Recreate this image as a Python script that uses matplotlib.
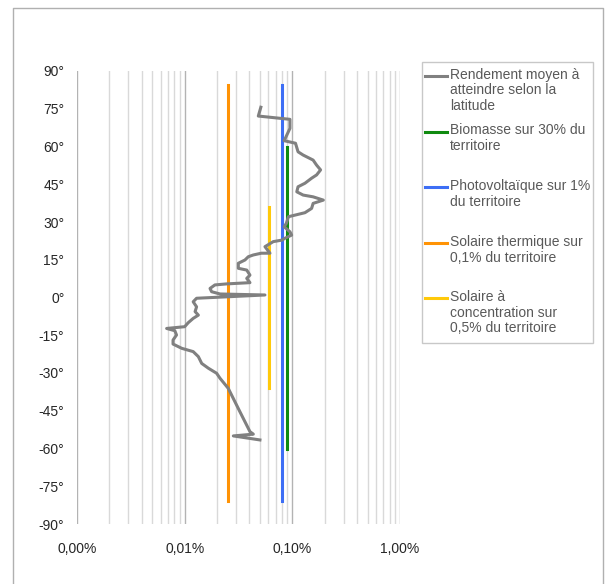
import matplotlib
matplotlib.use("Agg")
import matplotlib.pyplot as plt
from matplotlib.lines import Line2D
from matplotlib.patches import Rectangle
from matplotlib.ticker import FixedLocator, FuncFormatter, NullFormatter

plt.rcParams['font.family'] = ['Liberation Sans', 'DejaVu Sans']

# Gray curve: latitude (deg) and required average yield (%)
lat = [75.6, 72.1, 70.8, 67.2, 62.3, 61.3, 57.9, 56.6, 54.6, 52.6, 50.7, 48.7,
       47.4, 45.4, 44.0, 42.0, 40.7, 40.0, 38.7, 37.4, 35.4, 33.7, 32.1, 29.5,
       28.1, 26.1, 24.8, 23.5, 22.8, 22.2, 20.2, 17.6, 17.6, 16.9, 16.2, 14.9,
       13.6, 11.6, 10.9, 8.9, 7.6, 5.9, 5.4, 5.0, 3.6, 2.3, 1.4, 1.0, -0.3,
       -1.7, -3.7, -5.6, -7.0, -8.3, -10.0, -11.6, -12.3, -13.2, -14.9, -16.9,
       -18.5, -20.2, -21.5, -23.5, -26.2, -28.1, -30.1, -32.1, -36.1, -45.4,
       -53.3, -54.3, -55.0, -56.6]
rendement = [0.051, 0.0483, 0.095, 0.095, 0.084, 0.107, 0.113, 0.126, 0.156,
             0.168, 0.183, 0.168, 0.151, 0.131, 0.113, 0.110, 0.126, 0.156,
             0.194, 0.156, 0.151, 0.131, 0.092, 0.088, 0.084, 0.095, 0.0985,
             0.085, 0.080, 0.0665, 0.0557, 0.062, 0.0515, 0.0434, 0.039,
             0.0363, 0.0315, 0.0315, 0.0377, 0.0404, 0.0377, 0.0404, 0.0245,
             0.0191, 0.0172, 0.0178, 0.0213, 0.0557, 0.0129, 0.0120, 0.0129,
             0.0125, 0.0134, 0.0120, 0.0108, 0.0100, 0.0068, 0.0081, 0.0084,
             0.0078, 0.0078, 0.0094, 0.0120, 0.0134, 0.0144, 0.0166, 0.0198,
             0.0213, 0.0254, 0.0326, 0.0404, 0.0434, 0.0283, 0.050]

# Technology lines: value (%) and latitude span
biomasse_val = [0.089, 0.089]
biomasse_lat = [60, -60]
pv_val = [0.081, 0.081]
pv_lat = [84.4, -81]
thermique_val = [0.025, 0.025]
thermique_lat = [84.4, -81]
csp_val = [0.061, 0.061]
csp_lat = [36, -36]

labels = ["Rendement moyen à\natteindre selon la\nlatitude",
          "Biomasse sur 30% du\nterritoire",
          "Photovoltaïque sur 1%\ndu territoire",
          "Solaire thermique sur\n0,1% du territoire",
          "Solaire à\nconcentration sur\n0,5% du territoire"]
colors = ['#808080', '#0f8a0f', '#3d6ef5', '#ff9305', '#ffc90a']

yticks = list(range(-90, 91, 15))
xticks = [0.001, 0.01, 0.1, 1]

W, H = 605, 584
fig = plt.figure(figsize=(W / 100, H / 100), dpi=100)
ax = fig.add_axes([77 / W, 1 - 524 / H, (400 - 77) / W, (524 - 71) / H])

ax.plot(rendement, lat, color=colors[0], lw=2.2, zorder=5, solid_joinstyle='round')
ax.plot(biomasse_val, biomasse_lat, color=colors[1], lw=2.2, zorder=4)
ax.plot(pv_val, pv_lat, color=colors[2], lw=2.2, zorder=4)
ax.plot(thermique_val, thermique_lat, color=colors[3], lw=2.2, zorder=4)
ax.plot(csp_val, csp_lat, color=colors[4], lw=2.2, zorder=4)

ax.set_xscale('log')
ax.set_xlim(0.001, 1)
ax.set_ylim(-90, 90)
ax.xaxis.set_major_locator(FixedLocator(xticks))
ax.xaxis.set_major_formatter(FuncFormatter(lambda v, p: f"{v:.2f}".replace('.', ',') + "%"))
ax.xaxis.set_minor_formatter(NullFormatter())
ax.set_yticks(yticks)
ax.set_yticklabels([f"{t}°" for t in yticks])
ax.grid(True, which='major', axis='x', color='#b3b3b3', lw=1.0, zorder=0)
ax.grid(True, which='minor', axis='x', color='#d9d9d9', lw=1.0, zorder=0)
for s in ax.spines.values():
    s.set_visible(False)
ax.tick_params(axis='both', which='both', length=0, labelsize=10, colors='#262626')
ax.tick_params(axis='x', pad=13)
ax.tick_params(axis='y', pad=9)

# Outer chart frame
fx0, fx1, fy1 = 13 / W, 603 / W, 1 - 8 / H
fig.add_artist(Line2D([fx0, fx0, fx1, fx1], [-0.05, fy1, fy1, -0.05],
                      transform=fig.transFigure, color='#b0b0b0', lw=1.0))

# Legend (manual, Excel style)
lx0, ly0, lx1, ly1 = 422, 62, 593, 343
fig.add_artist(Rectangle((lx0 / W, 1 - ly1 / H), (lx1 - lx0) / W, (ly1 - ly0) / H,
                         transform=fig.transFigure, fill=False, edgecolor='#c8c8c8', lw=1.0))
entry_y = [75.5, 131.5, 187, 243, 298]
for lab, col, yy in zip(labels, colors, entry_y):
    fig.add_artist(Line2D([425 / W, 447 / W], [1 - yy / H, 1 - yy / H],
                          transform=fig.transFigure, color=col, lw=2.2))
    fig.text(450 / W, 1 - (yy - 8) / H, lab, ha='left', va='top', fontsize=10,
             color='#595959', linespacing=1.15)

fig.savefig("out.png", dpi=100)
